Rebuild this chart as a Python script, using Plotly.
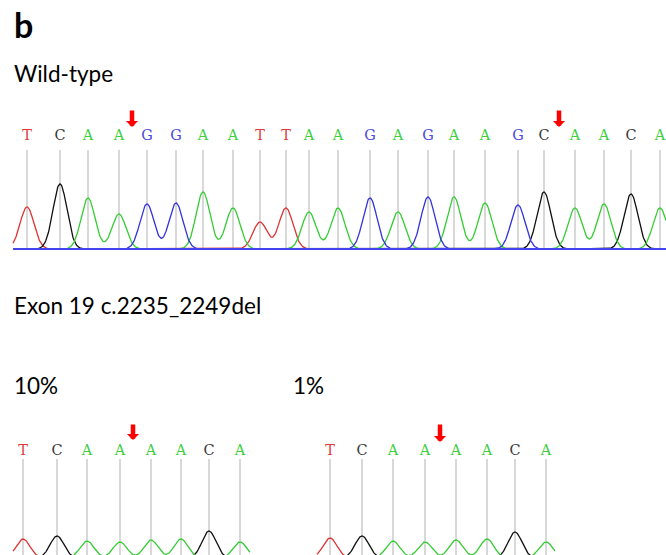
import numpy as np
import plotly.graph_objects as go

# ---------------- data ----------------
wt_bases = list("TCAAGGAATTAAGAGAAGCAACA")
wt_pos = [27, 60, 88, 119, 147, 176, 203, 233, 260, 286, 309, 338,
          370, 398, 428, 454, 485, 518, 544, 575, 604, 631, 660]
wt_height = [42, 65, 51, 35, 45, 46, 57, 41, 27, 41, 37, 41,
             51, 37, 52, 52, 46, 44, 57, 41, 45, 55, 41]
wt_arrows = [132, 559]

mut_bases = list("TCAAAACA")
p10_pos = [23, 57, 87, 120, 151, 181, 209, 240]
p10_height = [19, 22, 17, 16, 18, 19, 27, 16]
p10_arrow = [133]

p1_pos = [330, 362, 393, 425, 456, 487, 515, 546]
p1_height = [20, 22, 17, 16, 18, 19, 26, 16]
p1_arrow = [440]

base_color = {"T": "#e03a3a", "C": "#3a3a3a", "A": "#3fcf3f", "G": "#4a4ae0"}
trace_color = {"T": "#dd3333", "C": "#111111", "A": "#33cc33", "G": "#3333dd"}
SIGMA = 7.0

W, H = 666, 555


def py(p):
    return 1 - p / H


fig = go.Figure()


def add_panel(bases, pos, height, arrows, x0, x1, xa, ya, label_y, line_top,
              arrow_tail, arrow_tip, baseline=False):
    # grey call lines
    lx, ly = [], []
    for p in pos:
        lx += [p, p, None]
        ly += [0, line_top, None]
    fig.add_trace(go.Scatter(x=lx, y=ly, mode="lines", xaxis=xa, yaxis=ya,
                             line=dict(color="#cbcbcb", width=1.5),
                             hoverinfo="skip", showlegend=False))
    xs = np.linspace(x0, x1, 1200)
    for b in ["T", "C", "A", "G"]:
        ys = np.zeros_like(xs)
        for bb, p, h in zip(bases, pos, height):
            if bb == b:
                ys += h * np.exp(-(xs - p) ** 2 / (2 * SIGMA ** 2))
        fig.add_trace(go.Scatter(x=xs, y=ys, mode="lines", xaxis=xa, yaxis=ya,
                                 line=dict(color=trace_color[b], width=1.3),
                                 hoverinfo="skip", showlegend=False))
    if baseline:
        fig.add_trace(go.Scatter(x=[x0, x1], y=[0, 0], mode="lines", xaxis=xa,
                                 yaxis=ya, line=dict(color="#4444ee", width=2),
                                 hoverinfo="skip", showlegend=False))
    fig.add_trace(go.Scatter(x=pos, y=[label_y] * len(pos), mode="text",
                             text=bases, xaxis=xa, yaxis=ya,
                             textfont=dict(family="DejaVu Serif", size=14.5,
                                           color=[base_color[b] for b in bases]),
                             hoverinfo="skip", showlegend=False))
    for a in arrows:
        fig.add_annotation(x=a, y=arrow_tip, ax=a, ay=arrow_tail,
                           xref=xa, yref=ya, axref=xa, ayref=ya,
                           showarrow=True, arrowhead=1, arrowsize=0.45,
                           arrowwidth=4.5, arrowcolor="#ff0000", text="")


# wild-type panel: baseline at pixel 249
add_panel(wt_bases, wt_pos, wt_height, wt_arrows, 13, 666, "x", "y",
          label_y=113, line_top=99, arrow_tail=140, arrow_tip=122, baseline=True)
# 10% panel: baseline at pixel 558 (cut off)
add_panel(mut_bases, p10_pos, p10_height, p10_arrow, 13, 250, "x", "y2",
          label_y=107, line_top=99, arrow_tail=135, arrow_tip=118)
# 1% panel
add_panel(mut_bases, p1_pos, p1_height, p1_arrow, 317, 555, "x", "y2",
          label_y=107, line_top=99, arrow_tail=135, arrow_tip=116)

txt_font = "Lato"
fig.add_annotation(x=12 / W, y=py(25), xref="paper", yref="paper", text="<b>b</b>",
                   showarrow=False, xanchor="left", yanchor="middle",
                   font=dict(family=txt_font, size=34, color="#000"))
for t, xp, yp in [("Wild-type", 12, 73), ("Exon 19 c.2235_2249del", 12, 305),
                  ("10%", 12, 385), ("1%", 291, 385)]:
    fig.add_annotation(x=xp / W, y=py(yp), xref="paper", yref="paper", text=t,
                       showarrow=False, xanchor="left", yanchor="middle",
                       font=dict(family=txt_font, size=22.5, color="#000"))

fig.update_layout(
    width=W, height=H, margin=dict(l=0, r=0, t=0, b=0),
    paper_bgcolor="white", plot_bgcolor="white",
    xaxis=dict(range=[0, W], domain=[0, 1], visible=False),
    yaxis=dict(range=[-1, 149], domain=[py(250), py(100)], visible=False),
    yaxis2=dict(range=[3, 148], domain=[0, py(410)], visible=False),
)

fig.write_html("out.html", config={"displayModeBar": False},
               post_script="document.body.style.margin='0';"
                           "document.body.style.overflow='hidden';")
